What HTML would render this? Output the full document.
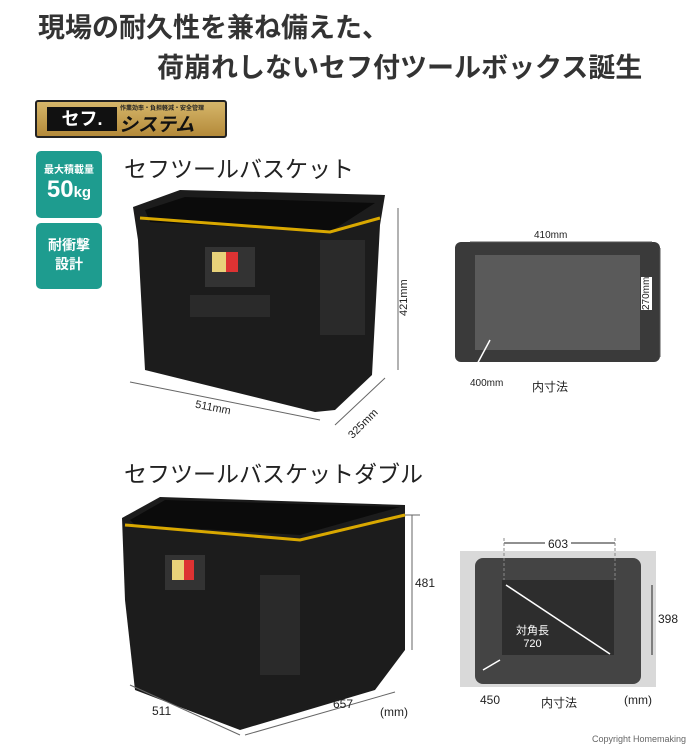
<!DOCTYPE html><html><head><meta charset="utf-8"><style>
body{margin:0;width:700px;height:747px;background:#fff;position:relative;overflow:hidden;font-family:"Liberation Sans","Noto Sans CJK JP",sans-serif;color:#222}
.a{position:absolute;white-space:nowrap}
.t{font-weight:bold;font-size:27px;color:#333}
.g{background:#1e9c8f;border-radius:5px;color:#fff;text-align:center;font-weight:bold}
</style></head><body>
<div class="a t" style="left:38px;top:6px">現場の耐久性を兼ね備えた、</div>
<div class="a t" style="left:157px;top:46px">荷崩れしないセフ付ツールボックス誕生</div>
<div class="a" style="left:35px;top:100px;width:188px;height:34px;background:linear-gradient(#d6b66a,#b48a3a);border:2px solid #222;border-radius:3px"></div>
<div class="a" style="left:47px;top:107px;width:70px;height:24px;background:#111;color:#fff;font-weight:bold;font-size:18px;text-align:center;line-height:24px">セフ.</div>
<div class="a" style="left:120px;top:103px;font-size:6px;font-weight:bold">作業効率・負担軽減・安全管理</div>
<div class="a" style="left:119px;top:110px;font-size:19px;font-weight:bold;color:#111;font-style:italic">システム</div>
<div class="a g" style="left:36px;top:151px;width:66px;height:67px"><div style="font-size:10px;margin-top:10px">最大積載量</div><div style="font-size:24px;line-height:28px">50<span style="font-size:15px">kg</span></div></div>
<div class="a g" style="left:36px;top:223px;width:66px;height:66px;font-size:14px;line-height:19px;padding-top:13px;box-sizing:border-box">耐衝撃<br>設計</div>
<div class="a" style="left:124px;top:150px;font-size:23px">セフツールバスケット</div>
<div class="a" style="left:124px;top:455px;font-size:23px">セフツールバスケットダブル</div>
<svg class="a" style="left:0;top:0" width="700" height="747">
<!-- basket 1 -->
<polygon points="133,207 180,190 385,195 380,225 372,375 335,410 315,412 145,370 138,240" fill="#1c1c1c"/>
<polygon points="145,210 185,197 375,203 330,232 150,222" fill="#0b0b0b"/>
<polyline points="140,218 330,232 380,218" stroke="#d9a800" stroke-width="3" fill="none"/>
<rect x="205" y="247" width="50" height="40" fill="#333"/>
<rect x="212" y="252" width="14" height="20" fill="#e8d27a"/><rect x="226" y="252" width="12" height="20" fill="#d33"/>
<rect x="190" y="295" width="80" height="22" fill="#2a2a2a"/>
<rect x="320" y="240" width="45" height="95" fill="#2a2a2a"/>
<line x1="130" y1="382" x2="320" y2="420" stroke="#666"/><line x1="335" y1="425" x2="385" y2="378" stroke="#666"/>
<line x1="398" y1="208" x2="398" y2="370" stroke="#666"/>
<!-- basket 2 -->
<polygon points="122,518 160,497 405,505 405,650 375,690 240,730 135,690 125,600" fill="#1c1c1c"/>
<polygon points="130,520 165,500 400,507 300,535 135,525" fill="#0b0b0b"/>
<polyline points="125,525 300,540 405,515" stroke="#d9a800" stroke-width="3" fill="none"/>
<rect x="165" y="555" width="40" height="35" fill="#333"/>
<rect x="172" y="560" width="12" height="20" fill="#e8d27a"/><rect x="184" y="560" width="10" height="20" fill="#d33"/>
<rect x="260" y="575" width="40" height="100" fill="#2a2a2a"/>
<line x1="130" y1="685" x2="240" y2="735" stroke="#666"/><line x1="245" y1="735" x2="395" y2="692" stroke="#666"/>
<line x1="405" y1="515" x2="420" y2="515" stroke="#666"/><line x1="412" y1="515" x2="412" y2="650" stroke="#666"/>
<!-- top view 1 -->
<rect x="455" y="242" width="205" height="120" rx="6" fill="#3a3a3a"/>
<rect x="475" y="255" width="165" height="95" fill="#5a5a5a"/>
<line x1="470" y1="242" x2="652" y2="242" stroke="#555"/><line x1="660" y1="248" x2="660" y2="357" stroke="#555"/>
<line x1="475" y1="368" x2="490" y2="340" stroke="#fff" stroke-width="1.5"/>
<!-- top view 2 -->
<rect x="460" y="551" width="196" height="136" fill="#d9d9d9"/>
<rect x="475" y="558" width="166" height="126" rx="8" fill="#444"/>
<rect x="502" y="580" width="112" height="75" fill="#2d2d2d"/>
<line x1="504" y1="543" x2="615" y2="543" stroke="#222"/><line x1="504" y1="538" x2="504" y2="580" stroke="#888" stroke-dasharray="3,2"/><line x1="615" y1="538" x2="615" y2="580" stroke="#888" stroke-dasharray="3,2"/>
<line x1="652" y1="585" x2="652" y2="655" stroke="#222"/>
<line x1="506" y1="585" x2="610" y2="654" stroke="#fff" stroke-width="1.5"/>
<line x1="483" y1="670" x2="500" y2="660" stroke="#fff" stroke-width="1.5"/>
</svg>
<div class="a" style="left:534px;top:230px;font-size:10px;background:#fff">410mm</div>
<div class="a" style="left:641px;top:310px;font-size:10px;transform:rotate(-90deg);transform-origin:left top;background:#fff">270mm</div>
<div class="a" style="left:470px;top:378px;font-size:10px">400mm</div>
<div class="a" style="left:532px;top:378px;font-size:12px">内寸法</div>
<div class="a" style="left:398px;top:316px;font-size:11px;transform:rotate(-90deg);transform-origin:left top">421mm</div>
<div class="a" style="left:195px;top:402px;font-size:11px;transform:rotate(11deg)">511mm</div>
<div class="a" style="left:345px;top:418px;font-size:11px;transform:rotate(-45deg)">325mm</div>
<div class="a" style="left:415px;top:576px;font-size:12px">481</div>
<div class="a" style="left:152px;top:704px;font-size:12px">511</div>
<div class="a" style="left:333px;top:697px;font-size:12px">657</div>
<div class="a" style="left:380px;top:705px;font-size:12px">(mm)</div>
<div class="a" style="left:545px;top:537px;font-size:12px;background:#fff;padding:0 3px">603</div>
<div class="a" style="left:658px;top:612px;font-size:12px">398</div>
<div class="a" style="left:516px;top:622px;font-size:11px;color:#fff;text-align:center">対角長<br>720</div>
<div class="a" style="left:480px;top:693px;font-size:12px">450</div>
<div class="a" style="left:541px;top:694px;font-size:12px">内寸法</div>
<div class="a" style="left:624px;top:693px;font-size:12px">(mm)</div>
<div class="a" style="left:592px;top:734px;font-size:9px;color:#666">Copyright Homemaking</div>
</body></html>
